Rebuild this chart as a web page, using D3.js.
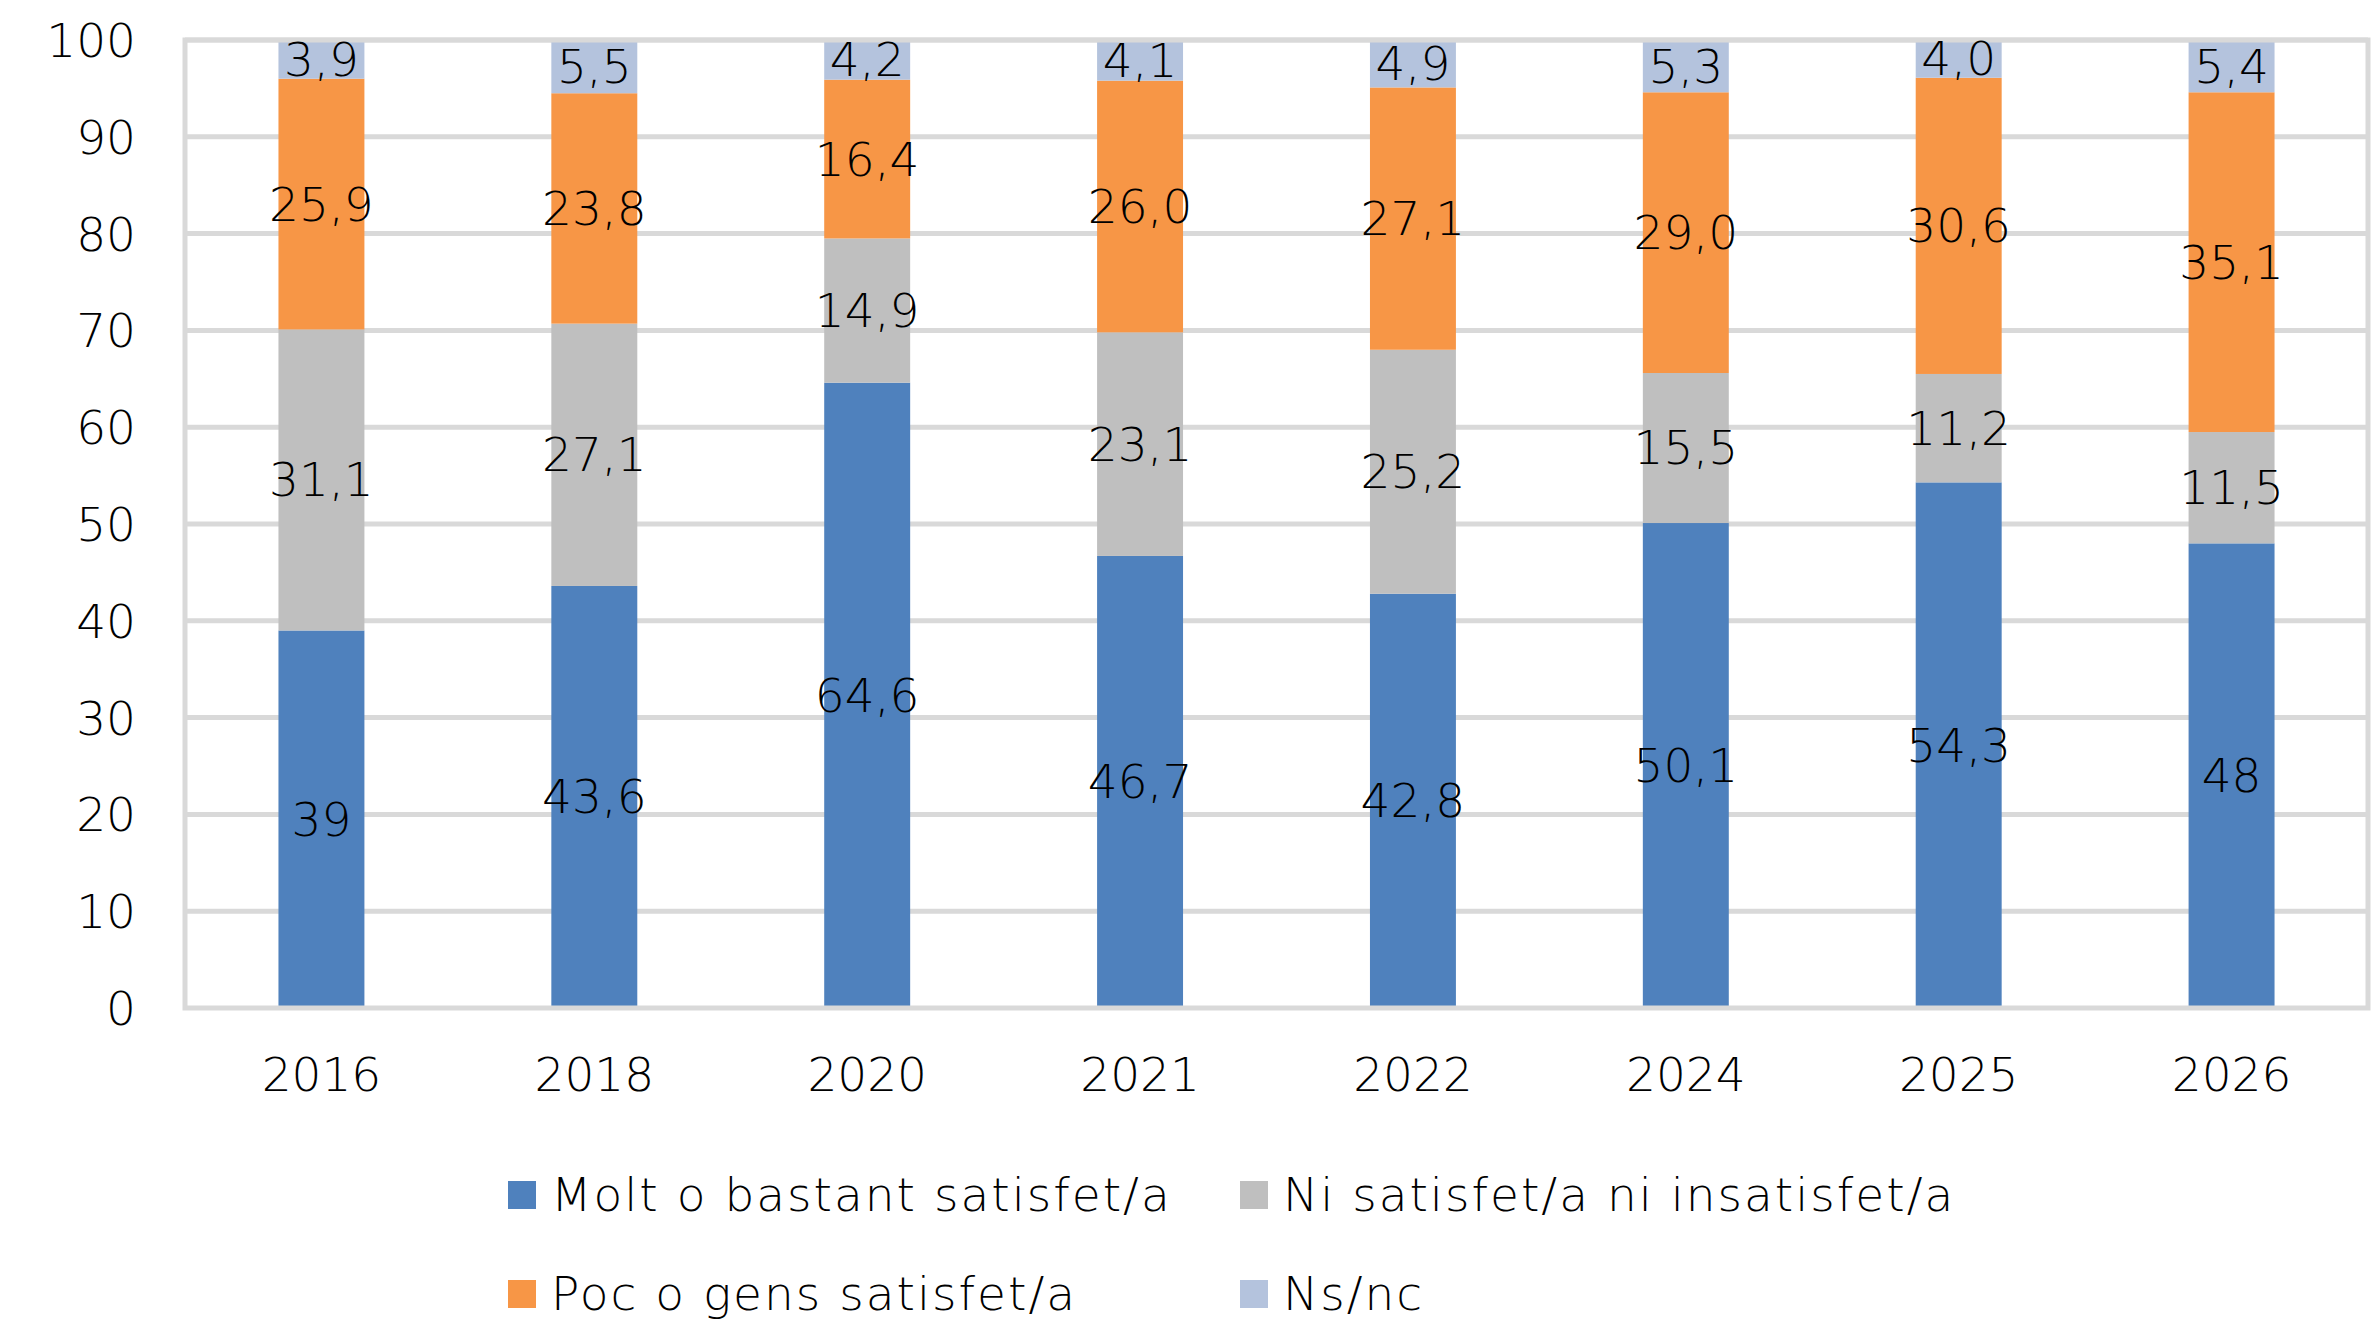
<!DOCTYPE html>
<html>
<head>
<meta charset="utf-8">
<script src="https://cdn.jsdelivr.net/npm/d3@7"></script>
<style>
    body { margin: 0; background: #fff; }
    svg text { font-family: "DejaVu Sans", sans-serif; font-weight: 200; fill: #000; }
</style>
</head>
<body>
<div id="chartDiv"></div>
<script>
// data
const years = ['2016', '2018', '2020', '2021', '2022', '2024', '2025', '2026'];
const molt = [39, 43.6, 64.6, 46.7, 42.8, 50.1, 54.3, 48];
const ni = [31.1, 27.1, 14.9, 23.1, 25.2, 15.5, 11.2, 11.5];
const poc = [25.9, 23.8, 16.4, 26.0, 27.1, 29.0, 30.6, 35.1];
const nsnc = [3.9, 5.5, 4.2, 4.1, 4.9, 5.3, 4.0, 5.4];
const seriesNames = ['Molt o bastant satisfet/a', 'Ni satisfet/a ni insatisfet/a', 'Poc o gens satisfet/a', 'Ns/nc'];
const seriesKeys = ['molt', 'ni', 'poc', 'nsnc'];
const seriesColors = ['#4F81BD', '#BFBFBF', '#F79646', '#B4C3DD'];
const yTicks = [0, 10, 20, 30, 40, 50, 60, 70, 80, 90, 100];

const W = 2377, H = 1325;
const margin = { left: 185, right: 9, top: 40, bottom: 317 };
const fontSize = '47px';

let rows = years.map((y, i) => ({ year: y, molt: molt[i], ni: ni[i], poc: poc[i], nsnc: nsnc[i] }));

let svgObj = d3.select('#chartDiv').append('svg')
    .attr('width', W)
    .attr('height', H);

const x = d3.scaleBand()
    .domain(years)
    .range([margin.left, W - margin.right])
    .paddingInner(0.685)
    .paddingOuter(0.3425);

const y = d3.scaleLinear()
    .domain([0, 100])
    .range([H - margin.bottom, margin.top]);

// excel-ish number labels: first series as "general", the rest with one decimal
function labelText(key, v){
    let s = (key == 'molt') ? String(v) : v.toFixed(1);
    return s.replace('.', ',');
}

function buildChart(){
    const grid = '#D9D9D9';

    // gridlines
    svgObj.append('g')
        .selectAll('line')
        .data(yTicks.filter(t => t > 0))
        .enter().append('line')
        .attr('x1', margin.left)
        .attr('x2', W - margin.right)
        .attr('y1', d => y(d))
        .attr('y2', d => y(d))
        .attr('stroke', grid)
        .attr('stroke-width', 5);

    // stacked bars
    const stack = d3.stack().keys(seriesKeys);
    const layers = stack(rows);

    svgObj.append('g')
        .selectAll('g')
        .data(layers)
        .enter().append('g')
        .attr('fill', (d, i) => seriesColors[i])
        .selectAll('rect')
        .data(d => d)
        .enter().append('rect')
        .attr('x', d => x(d.data.year))
        .attr('width', x.bandwidth())
        .attr('y', d => y(Math.min(d[1], 100)))
        .attr('height', d => y(d[0]) - y(Math.min(d[1], 100)));

    // plot area border (left, top, right) + bottom axis line
    svgObj.append('rect')
        .attr('x', margin.left)
        .attr('y', margin.top)
        .attr('width', W - margin.right - margin.left)
        .attr('height', y(0) - margin.top)
        .attr('fill', 'none')
        .attr('stroke', grid)
        .attr('stroke-width', 5);

    // data labels
    svgObj.append('g')
        .selectAll('g')
        .data(layers)
        .enter().append('g')
        .selectAll('text')
        .data(d => d.map(p => ({ key: d.key, p: p })))
        .enter().append('text')
        .attr('x', d => x(d.p.data.year) + x.bandwidth() / 2)
        .attr('y', d => y((d.p[0] + d.p[1]) / 2))
        .attr('dy', '0.35em')
        .attr('text-anchor', 'middle')
        .style('font-size', fontSize)
        .text(d => labelText(d.key, d.p.data[d.key]));

    // y axis
    const yAxis = d3.axisLeft(y).tickValues(yTicks).tickSize(0).tickPadding(0);
    let gy = svgObj.append('g')
        .attr('transform', `translate(${margin.left - 49},0)`)
        .call(yAxis);
    gy.select('.domain').remove();
    gy.selectAll('text').style('font-size', fontSize).attr('dy', '0.35em');

    // x axis
    const xAxis = d3.axisBottom(x).tickSize(0).tickPadding(0);
    let gx = svgObj.append('g')
        .attr('transform', `translate(0,${y(0) + 50})`)
        .call(xAxis);
    gx.select('.domain').remove();
    gx.selectAll('text').style('font-size', fontSize).attr('dy', '0.71em');
}

function buildLegend(){
    const cols = [508, 1240];
    const rowsY = [1195, 1294];
    const sz = 28;

    let items = svgObj.append('g')
        .selectAll('g')
        .data(seriesNames)
        .enter().append('g')
        .attr('transform', (d, i) => `translate(${cols[i % 2]},${rowsY[Math.floor(i / 2)]})`);

    items.append('rect')
        .attr('x', 0)
        .attr('y', -sz / 2)
        .attr('width', sz)
        .attr('height', sz)
        .attr('fill', (d, i) => seriesColors[i]);

    items.append('text')
        .attr('x', sz + 15)
        .attr('dy', '0.35em')
        .style('font-size', fontSize)
        .style('letter-spacing', '2px')
        .text(d => d);
}

buildChart();
buildLegend();
</script>
</body>
</html>
